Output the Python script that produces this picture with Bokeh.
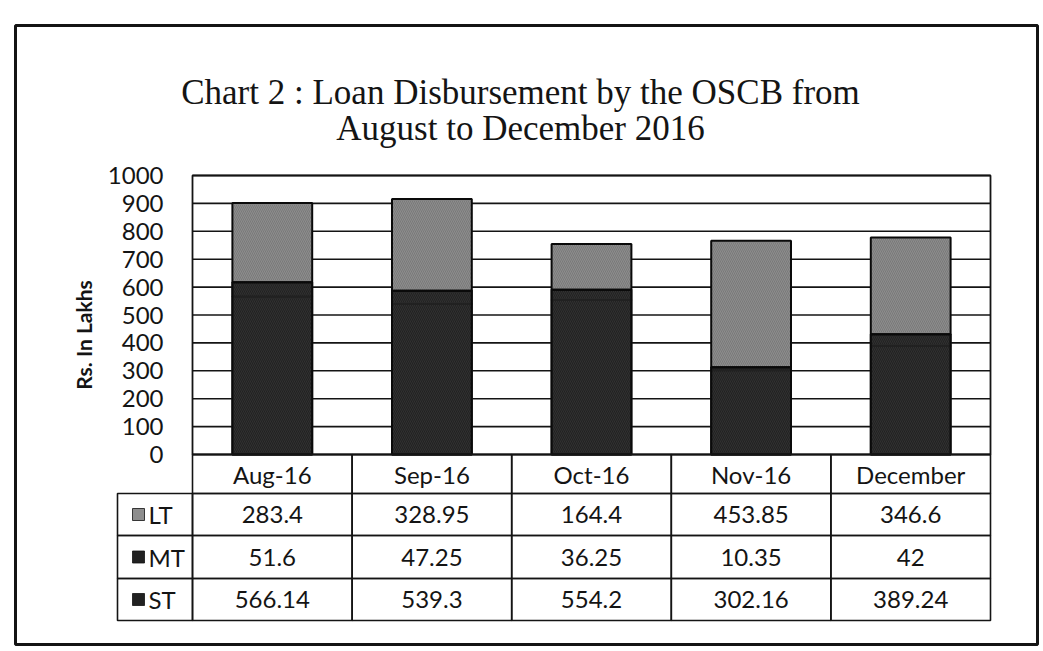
from bokeh.plotting import figure
from bokeh.models import Range1d, LinearAxis, FixedTicker, ColumnDataSource
from bokeh.core.properties import value
from bokeh.transform import stack
from bokeh.embed import file_html
from bokeh.resources import INLINE

# ---------------- data ----------------
categories = ["Aug-16", "Sep-16", "Oct-16", "Nov-16", "December"]
series_names = ["ST", "MT", "LT"]          # stacking order, bottom to top
st_values = [566.14, 539.3, 554.2, 302.16, 389.24]
mt_values = [51.6, 47.25, 36.25, 10.35, 42]
lt_values = [283.4, 328.95, 164.4, 453.85, 346.6]
table_rows = ["LT", "MT", "ST"]            # order shown in the data table
y_ticks = [0, 100, 200, 300, 400, 500, 600, 700, 800, 900, 1000]
title_lines = ["Chart 2 : Loan Disbursement by the OSCB from", "August to December 2016"]
y_label = "Rs. In Lakhs"

# ---------------- layout (page pixels) ----------------
W, H, PAGE = 1040, 648, 0
BOX_L, BOX_R, BOX_T, BOX_B = 15, 1037, 25, 644
PLOT_L, PLOT_R = 192, 990
Y0_PX, YTOP_PX = 454, 175
ROW_EDGES = [454, 493, 535, 578, 620]      # header, LT, MT, ST
LEG_L = 117

n = len(categories)
CAT_W = (PLOT_R - PLOT_L) / n
Y_MAX = y_ticks[-1]


def xd(px):
    return (px - PLOT_L) / CAT_W


def yd(py):
    return (Y0_PX - py) / (Y0_PX - YTOP_PX) * Y_MAX


INK = "#141414"
DARK = "#212121"
GREY = "#8d8d8d"
FONT = value("Lato")

p = figure(width=W, height=H,
           x_range=Range1d(xd(BOX_L), xd(BOX_R)),
           y_range=Range1d(yd(BOX_B), yd(BOX_T)),
           x_axis_type=None, y_axis_type=None,
           output_backend="svg", toolbar_location=None,
           min_border_left=BOX_L - PAGE, min_border_right=PAGE + W - BOX_R,
           min_border_top=BOX_T - PAGE, min_border_bottom=PAGE + H - BOX_B)
p.outline_line_color = INK
p.outline_line_width = 3
p.background_fill_color = "white"
p.border_fill_color = "white"

# y axis placed at the left edge of the plot area
yaxis = LinearAxis(fixed_location=0, ticker=FixedTicker(ticks=y_ticks), axis_label=y_label)
yaxis.axis_line_color = None
yaxis.major_tick_line_color = None
yaxis.minor_tick_line_color = None
yaxis.major_tick_in = 0
yaxis.major_tick_out = 0
yaxis.major_label_standoff = 29
yaxis.major_label_text_font = "Lato"
yaxis.major_label_text_font_size = "24px"
yaxis.major_label_text_color = INK
yaxis.axis_label_text_font = "Lato"
yaxis.axis_label_text_font_style = "bold"
yaxis.axis_label_text_font_size = "21px"
yaxis.axis_label_text_color = INK
yaxis.axis_label_standoff = 9
p.add_layout(yaxis, "left")

# horizontal gridlines at the tick values
p.segment(x0=0, x1=n, y0=y_ticks, y1=y_ticks, line_color=INK, line_width=1.6)

# stacked bars (ST and MT share the same dark shade, as in the print)
src = ColumnDataSource(dict(x=[i + 0.5 for i in range(n)],
                            ST=st_values, MT=mt_values, LT=lt_values))
p.vbar_stack(series_names, x="x", width=0.5, source=src,
             fill_color=[DARK, DARK, GREY],
             line_color=[DARK, DARK, "#0a0a0a"], line_width=2,
             hatch_pattern="\\", hatch_color=["#464646", "#464646", "#5e5e5e"],
             hatch_alpha=0.55, hatch_scale=4, hatch_weight=0.8)
# black outline around the combined dark part (ST + MT)
p.vbar(x="x", width=0.5, bottom=0, top=stack("ST", "MT"), source=src,
       fill_color=None, line_color="#0a0a0a", line_width=2)

# plot-area frame
p.quad(left=[0], right=[n], bottom=[0], top=[Y_MAX], fill_color=None,
       line_color=INK, line_width=1.8)

# ---------------- data table ----------------
row_vals = {"LT": lt_values, "MT": mt_values, "ST": st_values}
row_colors = {"LT": GREY, "MT": DARK, "ST": DARK}

cl, cr, cb, ct = [], [], [], []
for i in range(n):
    cl.append(i); cr.append(i + 1); ct.append(yd(ROW_EDGES[0])); cb.append(yd(ROW_EDGES[1]))
for r in range(len(table_rows)):
    top, bot = yd(ROW_EDGES[r + 1]), yd(ROW_EDGES[r + 2])
    cl.append(xd(LEG_L)); cr.append(0); ct.append(top); cb.append(bot)
    for i in range(n):
        cl.append(i); cr.append(i + 1); ct.append(top); cb.append(bot)
p.quad(left=cl, right=cr, top=ct, bottom=cb, fill_color=None,
       line_color=INK, line_width=1.6)


def mid(k):
    return yd((ROW_EDGES[k] + ROW_EDGES[k + 1]) / 2)


p.text(x=[i + 0.5 for i in range(n)], y=[mid(0)] * n, text=categories,
       text_font=FONT, text_font_size="24px", text_color=INK,
       text_align="center", text_baseline="middle")

tx, ty, tt = [], [], []
for r, name in enumerate(table_rows):
    for i, v in enumerate(row_vals[name]):
        tx.append(i + 0.5); ty.append(mid(r + 1)); tt.append(f"{v:g}")
p.text(x=tx, y=ty, text=tt, text_font=FONT, text_font_size="24px",
       text_color=INK, text_align="center", text_baseline="middle")

p.scatter(x=[xd(138)] * len(table_rows), y=[mid(r + 1) for r in range(len(table_rows))],
          marker="square", size=12, fill_color=[row_colors[nm] for nm in table_rows],
          line_color="#111111", line_width=0.8)
p.text(x=[xd(148)] * len(table_rows), y=[mid(r + 1) for r in range(len(table_rows))],
       text=table_rows, text_font=FONT, text_font_size="24px", text_color=INK,
       text_align="left", text_baseline="middle")

p.text(x=[xd(520)] * 2, y=[yd(92), yd(128)], text=title_lines,
       text_font=value("Liberation Serif"), text_font_size="35px", text_color=INK,
       text_align="center", text_baseline="alphabetic")

open("out.html", "w").write(file_html(p, INLINE))
